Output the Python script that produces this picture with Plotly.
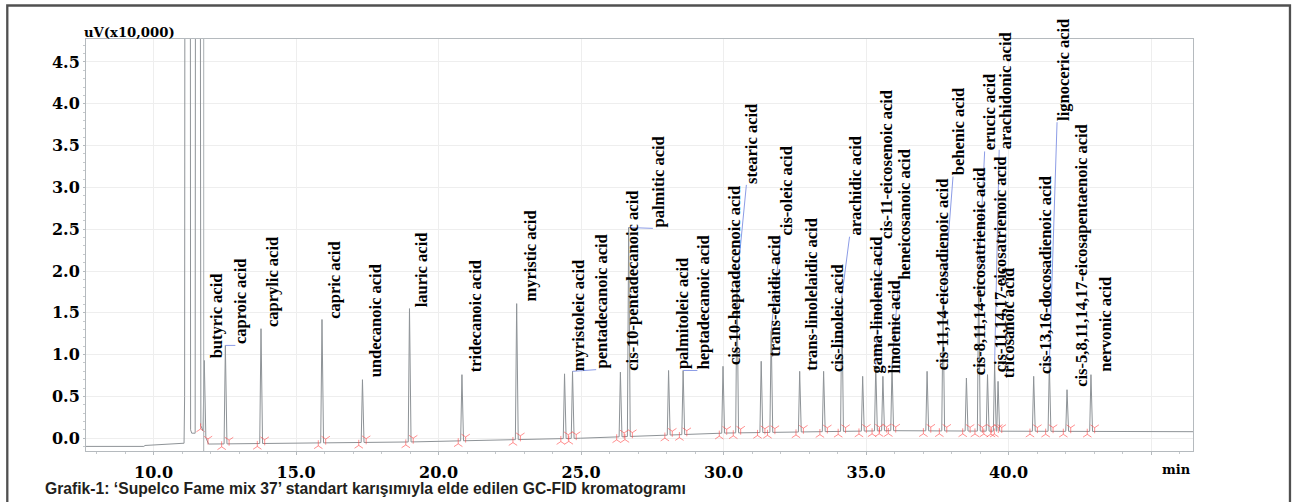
import numpy as np
import plotly.graph_objects as go

# ---------------- data ----------------
names = [
    "butyric acid", "caproic acid", "caprylic acid", "capric acid", "undecanoic acid",
    "lauric acid", "tridecanoic acid", "myristic acid", "myristoleic acid",
    "pentadecanoic acid", "cis-10-pentadecanoic acid", "palmitic acid",
    "palmitoleic acid", "heptadecanoic acid", "cis-10-heptadecenoic acid",
    "stearic acid", "trans-elaidic acid", "cis-oleic acid", "trans-linolelaidic acid",
    "cis-linoleic acid", "arachidic acid", "gama-linolenic acid",
    "cis-11-eicosenoic acid", "linolenic acid", "heneicosanoic acid",
    "cis-11,14-eicosadienoic acid", "behenic acid", "cis-8,11,14-eicosatrienoic acid",
    "erucic acid", "cis-11,14,17-eicosatrienoic acid", "arachidonic acid",
    "tricosanoic acid", "cis-13,16-docosadienoic acid", "lignoceric acid",
    "cis-5,8,11,14,17-eicosapentaenoic acid", "nervonic acid",
]
peak_t = [11.78, 12.52, 13.77, 15.91, 17.33, 18.98, 20.82, 22.74, 24.42, 24.70,
          26.38, 26.67, 28.07, 28.58, 29.98, 30.47, 31.32, 31.67, 32.67, 33.51,
          34.15, 34.88, 35.34, 35.59, 35.91, 37.14, 37.70, 38.52, 38.95, 39.26,
          39.51, 39.63, 40.88, 41.43, 42.05, 42.89]
peak_h = [0.93, 1.11, 1.31, 1.42, 0.70, 1.55, 0.76, 1.61, 0.77, 0.80,
          0.79, 2.52, 0.81, 0.81, 0.86, 1.87, 0.92, 1.28, 0.80, 0.80,
          1.70, 0.74, 0.86, 0.74, 0.86, 0.80, 1.58, 0.72, 1.94, 0.76,
          0.90, 0.68, 0.74, 0.89, 0.58, 0.76]
label_t = [12.20, 13.07, 14.20, 16.36, 17.80, 19.39, 21.29, 23.22, 24.91, 25.73,
           26.80, 27.72, 28.54, 29.28, 30.41, 31.00, 31.78, 32.20, 33.10, 33.98,
           34.62, 35.36, 35.71, 35.99, 36.34, 37.66, 38.25, 38.99, 39.36, 39.71,
           39.87, 40.00, 41.29, 41.90, 42.55, 43.39]
label_v = [0.94, 1.11, 1.32, 1.42, 0.72, 1.55, 0.78, 1.62, 0.79, 0.82,
           0.80, 2.51, 0.82, 0.81, 0.86, 3.03, 0.96, 2.41, 0.80, 0.78,
           2.41, 0.76, 2.37, 0.76, 1.88, 0.80, 3.13, 0.74, 3.43, 0.78,
           3.45, 0.70, 0.76, 3.78, 0.60, 0.78]
has_leader = [0, 1, 0, 0, 0, 0, 0, 0, 0, 1,
              0, 1, 0, 1, 0, 1, 0, 1, 0, 0,
              1, 0, 1, 0, 1, 0, 1, 0, 1, 0,
              1, 0, 0, 1, 0, 0]

# baseline of the chromatogram
base_t = [7.63, 9.66, 9.70, 11.05, 11.93, 18.98, 24.98, 30.10, 35.86, 39.72, 46.47]
base_v = [-0.098, -0.098, -0.087, -0.086, -0.07, -0.045, 0.0, 0.062, 0.09, 0.084, 0.078]

# solvent front (off-scale)
solvent_t = [11.07, 11.09, 11.10, 11.29, 11.30, 11.34, 11.46, 11.47, 11.64, 11.66, 11.72]
solvent_v = [-0.06, 0.5, 6.0, 6.0, 0.10, 0.06, 0.06, 6.0, 6.0, 0.15, 0.10]

event_t = [11.76]  # full-height event marker line

x_ticks = [10, 15, 20, 25, 30, 35, 40, 45]
x_ticktext = ["10.0", "15.0", "20.0", "25.0", "30.0", "35.0", "40.0", ""]
y_ticks = [0.0, 0.5, 1.0, 1.5, 2.0, 2.5, 3.0, 3.5, 4.0, 4.5]

# ---------------- build trace ----------------
W_L, W_R = 0.045, 0.055
floor_t = sorted(base_t + [t for t, v in zip(solvent_t, solvent_v) if v < 1])
floor_map = dict(zip(base_t, base_v))
floor_map.update({t: v for t, v in zip(solvent_t, solvent_v) if v < 1})
floor_v = [floor_map[t] for t in floor_t]


def floor(t):
    return float(np.interp(t, floor_t, floor_v))


pts = []
for t, v in zip(base_t, base_v):
    if 11.0 < t < 11.9:
        continue
    if any(abs(t - p) < 0.08 for p in peak_t):
        continue
    pts.append((t, v))
pts += list(zip(solvent_t, solvent_v))
for t, h in zip(peak_t, peak_h):
    pts.append((t - W_L, floor(t - W_L)))
    pts.append((t, h))
    pts.append((t + W_R, floor(t + W_R)))
pts.sort(key=lambda p: p[0])
tx = [p[0] for p in pts]
ty = [p[1] for p in pts]

fig = go.Figure()

# event line
for et in event_t:
    fig.add_shape(type="line", xref="x", yref="paper", x0=et, x1=et, y0=0, y1=1,
                  line=dict(color="#a9aeb2", width=1))

fig.add_trace(go.Scatter(x=tx, y=ty, mode="lines",
                         line=dict(color="#8e9397", width=1), hoverinfo="skip",
                         showlegend=False))

# leader lines
lx, ly = [], []
for t, h, lt, lv, f in zip(peak_t, peak_h, label_t, label_v, has_leader):
    if f:
        lx += [t, lt - 0.2, None]
        ly += [h, lv, None]
fig.add_trace(go.Scatter(x=lx, y=ly, mode="lines",
                         line=dict(color="#8c9ce6", width=1), hoverinfo="skip",
                         showlegend=False))

# integration markers
RED = "rgba(255,70,70,0.6)"
st = [t - 0.13 for t in peak_t]
et_ = [t + 0.13 for t in peak_t]
fig.add_trace(go.Scatter(x=st, y=[floor(t) - 0.035 for t in st], mode="markers",
                         marker=dict(symbol="y-up-open", size=7, color=RED,
                                     line=dict(color=RED, width=1)),
                         hoverinfo="skip", showlegend=False))
fig.add_trace(go.Scatter(x=et_, y=[floor(t) + 0.045 for t in et_], mode="markers",
                         marker=dict(symbol="y-down-open", size=7, color=RED,
                                     line=dict(color=RED, width=1)),
                         hoverinfo="skip", showlegend=False))

# peak labels
for n, lt, lv in zip(names, label_t, label_v):
    fig.add_annotation(x=lt, y=lv, xref="x", yref="y", text=n, textangle=-90,
                       showarrow=False, xanchor="center", yanchor="bottom",
                       font=dict(family="Liberation Serif", size=16.5, color="#000000",
                                 weight="bold"), borderpad=0)

# axis unit labels
fig.add_annotation(xref="paper", yref="paper", x=-0.003, y=1.0, xanchor="left",
                   yanchor="bottom", text="uV(x10,000)", showarrow=False, yshift=-2,
                   font=dict(family="DejaVu Serif", size=13.2, color="#000", weight="bold"),
                   borderpad=0)
fig.add_annotation(xref="paper", yref="paper", x=1.0, y=-0.046, xanchor="right",
                   yanchor="middle", text="min", showarrow=False,
                   font=dict(family="DejaVu Serif", size=13, color="#000", weight="bold"))
# caption
fig.add_annotation(xref="paper", yref="paper", x=-0.0388, y=-0.092, xanchor="left",
                   yanchor="middle",
                   text="Grafik-1: ‘Supelco Fame mix 37’ standart karışımıyla elde edilen GC-FID kromatogramı",
                   showarrow=False,
                   font=dict(family="Liberation Sans", size=15.7, color="#231f20", weight="bold"))

# outer frame (open at the bottom)
fig.add_shape(type="path", xref="paper", yref="paper",
              path="M -0.0711,-0.16 L -0.0711,1.0813 L 1.0876,1.0813 L 1.0876,-0.16",
              line=dict(color="#505050", width=2.3))

axis_font = dict(family="DejaVu Serif", size=16, color="#000000", weight="bold")
fig.update_xaxes(range=[7.63, 46.47], tickvals=x_ticks, ticktext=x_ticktext,
                 showgrid=True, gridcolor="#eeeeee", gridwidth=1, zeroline=False,
                 showline=True, linecolor="#b5babe", linewidth=1, mirror=True,
                 ticks="outside", ticklen=3, tickcolor="#b5babe",
                 minor=dict(dtick=1, ticks="outside", ticklen=2, tickcolor="#c5c9cc",
                            showgrid=False),
                 tickfont=axis_font, ticklabelstandoff=4)
fig.update_yaxes(range=[-0.153, 4.775], tickvals=y_ticks, tickformat=".1f",
                 showgrid=True, gridcolor="#eeeeee", gridwidth=1, zeroline=False,
                 showline=True, linecolor="#b5babe", linewidth=1, mirror=True,
                 ticks="outside", ticklen=2, tickcolor="#b5babe",
                 minor=dict(dtick=0.1, ticks="outside", ticklen=2, tickcolor="#c5c9cc",
                            showgrid=False),
                 tickfont=axis_font)

fig.update_layout(width=1302, height=502, autosize=False,
                  margin=dict(l=86, r=109, t=39, b=51, pad=0),
                  paper_bgcolor="white", plot_bgcolor="white", showlegend=False)

fig.write_html("out.html", config={"displayModeBar": False},
               post_script="document.body.style.margin='0px';"
                           "document.body.style.overflow='hidden';")
